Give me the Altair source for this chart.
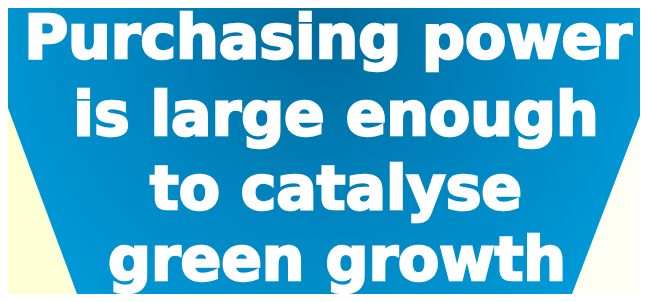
import altair as alt
import pandas as pd

# Headline text lines
lines = ["Purchasing power", "is large enough", "to catalyse", "green growth"]
line_x = [328, 336, 336, 337]
line_y = [58, 135, 209, 280]

# Blue panel outline (reference pixel coordinates)
panel_x = [8, 77, 572, 640]
panel_bottom = [108, 294, 294, 116]
panel_top = [8, 8, 8, 8]

# Background extent
bg_x = [8]
bg_x2 = [640]
bg_y = [8]
bg_y2 = [294]

xs = alt.Scale(domain=[8, 640], nice=False, zero=False)
ys = alt.Scale(domain=[8, 294], nice=False, zero=False, reverse=True)

bg = alt.Chart(pd.DataFrame({"x": bg_x, "x2": bg_x2, "y": bg_y, "y2": bg_y2})).mark_rect(
    fill=alt.LinearGradient(
        gradient="linear",
        stops=[alt.GradientStop(offset=0, color="#FFFFD4"),
               alt.GradientStop(offset=1, color="#FFFEF6")],
        x1=0, x2=1, y1=0, y2=0,
    ),
    clip=True,
).encode(
    x=alt.X("x:Q", scale=xs, axis=None),
    x2="x2:Q",
    y=alt.Y("y:Q", scale=ys, axis=None),
    y2="y2:Q",
)

panel = alt.Chart(pd.DataFrame({"x": panel_x, "top": panel_top, "bottom": panel_bottom})).mark_area(
    fill=alt.RadialGradient(
        gradient="radial",
        stops=[alt.GradientStop(offset=0, color="#006A9C"),
               alt.GradientStop(offset=0.45, color="#0088C4"),
               alt.GradientStop(offset=1, color="#00A6E6")],
        x1=0.5, y1=0.3, r1=0,
        x2=0.5, y2=0.3, r2=0.75,
    ),
    interpolate="linear",
    clip=True,
).encode(
    x=alt.X("x:Q", scale=xs, axis=None),
    y=alt.Y("top:Q", scale=ys, axis=None),
    y2="bottom:Q",
)

text = alt.Chart(pd.DataFrame({"t": lines, "x": line_x, "y": line_y})).mark_text(
    font="DejaVu Sans",
    fontWeight="bold",
    fontSize=60,
    color="white",
    stroke="white",
    strokeWidth=2.5,
    align="center",
    baseline="alphabetic",
).encode(
    x=alt.X("x:Q", scale=xs, axis=None),
    y=alt.Y("y:Q", scale=ys, axis=None),
    text="t:N",
)

chart = alt.layer(bg, panel, text).properties(
    width=632, height=286,
    autosize=alt.AutoSizeParams(type="none"),
    padding=0,
).configure_view(stroke=None).configure(background="#FFFFFF")

chart.save("out.html", embed_options={"renderer": "svg", "actions": False})
